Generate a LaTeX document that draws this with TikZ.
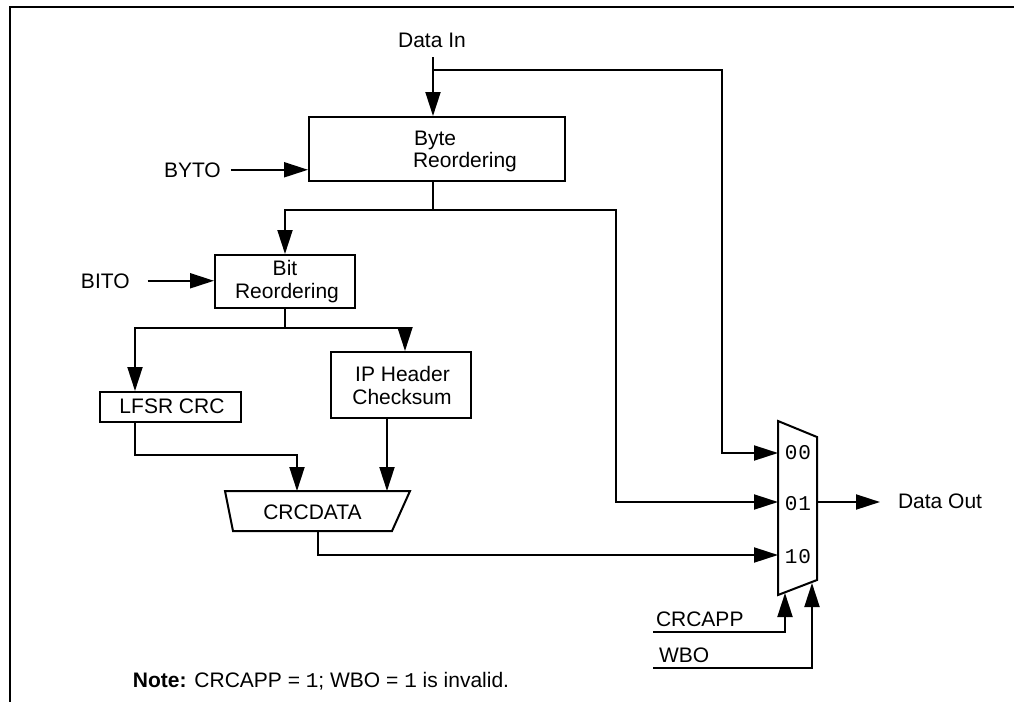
\documentclass[tikz,border=0pt]{standalone}
\usepackage{fontspec}
\setmainfont{Liberation Sans}
\setmonofont{Liberation Mono}
\usetikzlibrary{arrows.meta}
\begin{document}
\begin{tikzpicture}[x=0.5pt,y=-0.5pt,
  line width=1pt,
  every node/.style={font=\fontsize{10.5}{12}\selectfont, inner sep=0pt},
  blk/.style={draw, line width=1pt},
  ar/.style={-{Triangle[length=12pt,width=7.5pt]}},
  lbl/.style={anchor=base west},
  ctr/.style={anchor=base},
  pin/.style={anchor=base, font=\fontsize{10.5}{12}\ttfamily}
]
\useasboundingbox (0,0) rectangle (1014,702);
% frame
\draw[line width=1.2pt] (1014,7) -- (10,7) -- (10,702);

% named points
\coordinate (dinS) at (433,57);
\coordinate (br1) at (433,70);
\coordinate (c00) at (722,453);
\coordinate (br2) at (433,210);
\coordinate (c01) at (616,502);
\coordinate (br3) at (285,328);
\coordinate (lfturn) at (297,455);
\coordinate (crcinL) at (297,491);
\coordinate (crcinR) at (387,491);
\coordinate (crcTL) at (225,491);
\coordinate (crcTR) at (410,491);
\coordinate (crcBR) at (392,531);
\coordinate (crcBL) at (233,531);
\coordinate (crcout) at (318,531);
\coordinate (muxTL) at (778,421);
\coordinate (muxTR) at (817,437);
\coordinate (muxBR) at (817,580);
\coordinate (muxBL) at (778,595);
\coordinate (m00) at (778,453);
\coordinate (m01) at (778,502);
\coordinate (m10) at (778,555);
\coordinate (mout) at (817,502);
\coordinate (capS) at (653,632);
\coordinate (capT) at (785,593);
\coordinate (wboS) at (653,668);
\coordinate (wboT) at (812,583);

% boxes
\node[blk, minimum width=128pt, minimum height=32pt] (byte) at (437,149) {};
\node[lbl] (byteA) at (413,145) {Byte};
\node[lbl] (byteB) at (412,167) {Reordering};

\node[blk, minimum width=70pt, minimum height=26.5pt] (bit) at (285,281.5) {};
\node[ctr] (bitA) at (285,275) {Bit};
\node[ctr] (bitB) at (287,298) {Reordering};

\node[blk, minimum width=70.5pt, minimum height=15pt] (lfsr) at (170.5,407) {};
\node[ctr] (lfsrT) at (172,413) {LFSR CRC};

\node[blk, minimum width=70pt, minimum height=33pt] (ip) at (401,385) {};
\node[ctr] (ipA) at (402.5,381) {IP Header};
\node[ctr] (ipB) at (402,404) {Checksum};

\draw (crcTL) -- (crcTR) -- (crcBR) -- (crcBL) -- cycle;
\node[ctr] (crc) at (312.5,519) {CRCDATA};

\draw (muxTL) -- (muxTR) -- (muxBR) -- (muxBL) -- cycle;
\node[pin] (p00) at (798,459) {0\hspace{0.5pt}0};
\node[pin] (p01) at (798,510) {0\hspace{0.5pt}1};
\node[pin] (p10) at (798,563) {1\hspace{0.5pt}0};

% labels
\node[ctr] (din) at (432,47) {Data In};
\node[lbl] (byto) at (163,177) {BYTO};
\node[lbl] (bito) at (80,288) {BITO};
\node[lbl] (dout) at (897,508) {Data Out};
\node[lbl] (crcapp) at (655,626) {CRCAPP};
\node[lbl] (wbo) at (658,662) {WBO};
\node[lbl] (note) at (132,687) {\textbf{Note:} CRCAPP = \texttt{1}; WBO = \texttt{1} is invalid.};

% connectors
\draw[ar] (dinS) -- (byte.north -| dinS);
\draw[ar] (br1) -| (c00) -- (m00);
\draw (byte.south -| dinS) -- (br2);
\draw[ar] (br2) -| (bit.north);
\draw[ar] (br2) -| (c01) -- (m01);
\draw[ar] ([xshift=4.5pt]byto.east) -- (byto.east -| byte.west);
\draw[ar] ([xshift=8.5pt]bito.east) -- (bito.east -| bit.west);
\draw (bit.south) -- (br3);
\draw[ar] (br3) -| ([xshift=18pt]lfsr.north west);
\draw[ar] (br3) -| ([xshift=2pt]ip.north);
\draw[ar] ([xshift=18pt]lfsr.south west) |- (lfturn) -- (crcinL);
\draw[ar] ([xshift=-7pt]ip.south) -- (crcinR);
\draw[ar] (crcout) |- (m10);
\draw[ar, shorten >=8.5pt] (mout) -- (mout -| dout.west);
\draw[ar] (capS) -| (capT);
\draw[ar] (wboS) -| (wboT);
\end{tikzpicture}
\end{document}
